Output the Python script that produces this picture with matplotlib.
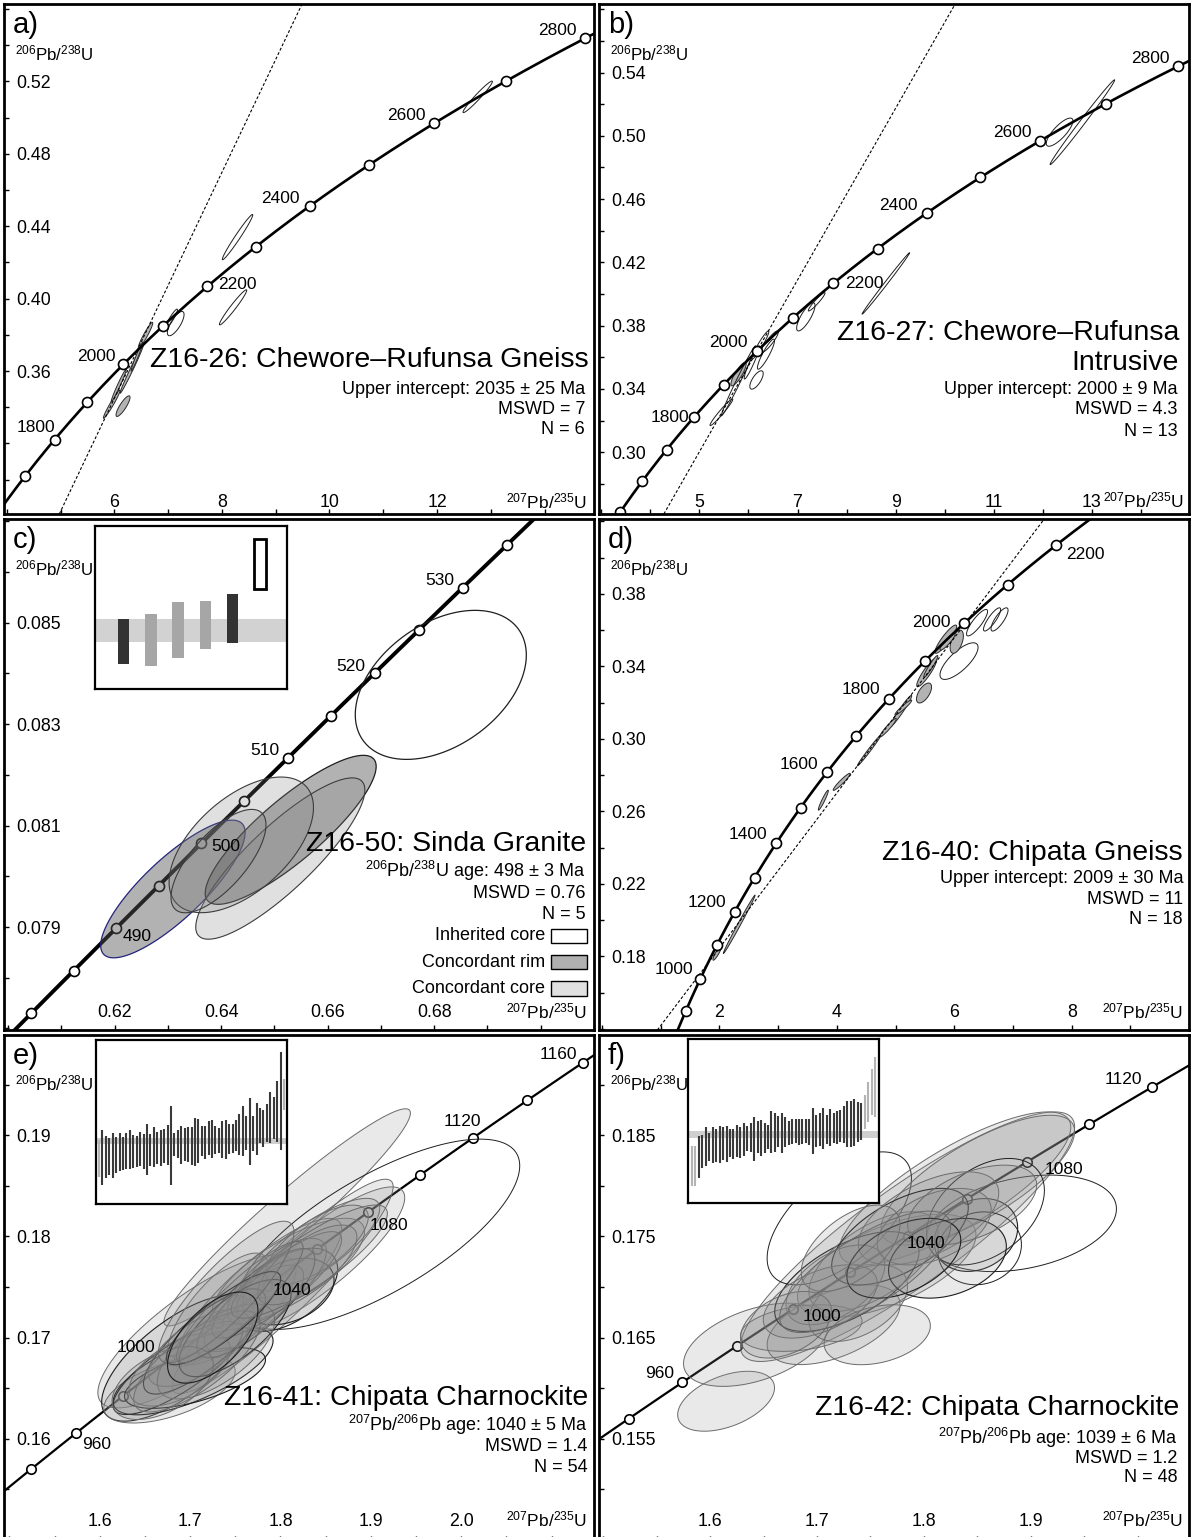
import numpy as np
import matplotlib.pyplot as plt
from matplotlib.patches import Rectangle
from matplotlib.ticker import FixedLocator, MultipleLocator

plt.rcParams['font.family'] = ['Liberation Sans', 'DejaVu Sans']
plt.rcParams['mathtext.fontset'] = 'custom'
plt.rcParams['mathtext.rm'] = 'Liberation Sans'
plt.rcParams['mathtext.it'] = 'Liberation Sans:italic'
plt.rcParams['mathtext.bf'] = 'Liberation Sans:bold'
plt.rcParams['mathtext.default'] = 'regular'

# U decay constants (1/yr)
L235 = 9.8485e-10
L238 = 1.55125e-10

# ---------------- data ----------------
# concordia age marks (Ma) and the ones that carry a label
ages_a = list(range(1700, 2801, 100))
ages_b = list(range(1500, 2801, 100))
ages_c = list(range(480, 536, 5))
ages_d = list(range(900, 2201, 100))
ages_e = list(range(940, 1161, 20))
ages_f = list(range(940, 1121, 20))
labels_a = [1800, 2000, 2200, 2400, 2600, 2800]
labels_b = [1800, 2000, 2200, 2400, 2600, 2800]
labels_c = [490, 500, 510, 520, 530]
labels_d = [1000, 1200, 1400, 1600, 1800, 2000, 2200]
labels_e = [960, 1000, 1040, 1080, 1120, 1160]
labels_f = [960, 1000, 1040, 1080, 1120]

# discordia (upper, lower intercept, Ma)
disc_a = (2035, -300)
disc_b = (2000, 300)
disc_d = (2009, 1045)

# error ellipses: 207Pb/235U, 206Pb/238U, half-extent x, half-extent y, rho, group
ell_a = [
    (6.579, 0.3798, 0.134, 0.0071, 0.95, 'fill'),
    (6.322, 0.3611, 0.217, 0.0134, 0.99, 'fill'),
    (5.950, 0.3417, 0.155, 0.0078, 0.97, 'fill'),
    (6.160, 0.3406, 0.130, 0.0057, 0.85, 'fill'),
    (6.420, 0.3680, 0.110, 0.0080, 0.98, 'fill'),
    (6.080, 0.3520, 0.140, 0.0090, 0.98, 'fill'),
    (7.140, 0.3862, 0.155, 0.0067, 0.75, 'open'),
    (7.057, 0.3887, 0.115, 0.0055, 0.93, 'open'),
    (8.207, 0.3952, 0.254, 0.0097, 0.97, 'open'),
    (8.290, 0.4340, 0.283, 0.0125, 0.98, 'open'),
    (12.757, 0.5115, 0.273, 0.0087, 0.97, 'open'),
]
ell_b = [
    (12.807, 0.5086, 0.658, 0.0268, 0.995, 'open'),
    (12.342, 0.5023, 0.271, 0.0089, 0.80, 'open'),
    (8.800, 0.4067, 0.484, 0.0194, 0.997, 'open'),
    (7.169, 0.3856, 0.187, 0.0089, 0.80, 'open'),
    (7.390, 0.3951, 0.170, 0.0058, 0.95, 'open'),
    (5.797, 0.3494, 0.155, 0.0074, 0.85, 'fill'),
    (5.448, 0.3253, 0.232, 0.0084, 0.97, 'open'),
    (5.797, 0.3452, 0.349, 0.0221, 0.99, 'open'),
    (6.164, 0.3457, 0.136, 0.0058, 0.70, 'open'),
    (6.357, 0.3620, 0.174, 0.0095, 0.90, 'open'),
    (6.435, 0.3699, 0.174, 0.0068, 0.90, 'open'),
    (6.241, 0.3678, 0.174, 0.0089, 0.95, 'open'),
    (6.068, 0.3568, 0.155, 0.0105, 0.95, 'open'),
]
ell_c = [
    (0.63093, 0.079750, 0.01356, 0.001357, 0.82, 'rim'),
    (0.65305, 0.080916, 0.01605, 0.001469, 0.85, 'rim'),
    (0.65110, 0.080350, 0.01588, 0.001590, 0.85, 'core'),
    (0.64377, 0.080620, 0.01356, 0.001337, 0.55, 'core'),
    (0.63949, 0.080300, 0.00892, 0.001019, 0.70, 'core'),
    (0.68124, 0.083774, 0.01606, 0.001469, 0.40, 'inherited'),
]
ell_d = [
    (6.388, 0.3641, 0.179, 0.0073, 0.85, 'open'),
    (6.644, 0.3659, 0.146, 0.0064, 0.85, 'open'),
    (6.771, 0.3659, 0.145, 0.0064, 0.80, 'open'),
    (6.081, 0.3429, 0.324, 0.0101, 0.75, 'open'),
    (5.856, 0.3550, 0.185, 0.0078, 0.90, 'fill'),
    (6.042, 0.3536, 0.113, 0.0064, 0.50, 'fill'),
    (5.885, 0.3536, 0.128, 0.0046, 0.90, 'fill'),
    (5.531, 0.3366, 0.170, 0.0078, 0.90, 'fill'),
    (5.600, 0.3400, 0.120, 0.0060, 0.95, 'fill'),
    (5.485, 0.3253, 0.128, 0.0055, 0.60, 'fill'),
    (5.090, 0.3153, 0.185, 0.0087, 0.97, 'fill'),
    (5.132, 0.3173, 0.142, 0.0041, 0.95, 'fill'),
    (4.872, 0.3062, 0.140, 0.0051, 0.95, 'fill'),
    (4.550, 0.2936, 0.200, 0.0085, 0.99, 'fill'),
    (4.083, 0.2763, 0.145, 0.0047, 0.95, 'fill'),
    (3.770, 0.2662, 0.085, 0.0055, 0.95, 'fill'),
    (2.337, 0.1977, 0.270, 0.0161, 0.995, 'fill'),
    (1.964, 0.1820, 0.074, 0.0041, 0.90, 'fill'),
]
ell_e = [
    (1.8074, 0.18188, 0.1364, 0.01073, 0.96, 'grain'),
    (1.9082, 0.18021, 0.1566, 0.00940, 0.72, 'open'),
    (1.8416, 0.17774, 0.0959, 0.00715, 0.85, 'grain'),
    (1.8024, 0.17505, 0.1223, 0.01060, 0.93, 'grain'),
    (1.7075, 0.17061, 0.1096, 0.00756, 0.80, 'grain'),
    (1.6864, 0.16798, 0.0843, 0.00624, 0.70, 'dark'),
    (1.6772, 0.16486, 0.0727, 0.00330, 0.55, 'grain'),
    (1.7033, 0.16667, 0.0885, 0.00430, 0.70, 'dark'),
    (1.7054, 0.16601, 0.0780, 0.00300, 0.60, 'dark'),
    (1.8074, 0.17472, 0.0559, 0.00411, 0.50, 'dark'),
    (1.8087, 0.17455, 0.0506, 0.00329, 0.35, 'dark'),
    (1.7307, 0.17275, 0.0560, 0.00560, 0.75, 'grain'),
    (1.6864, 0.16700, 0.0717, 0.00460, 0.80, 'dark'),
    (1.7771, 0.17455, 0.0906, 0.00723, 0.85, 'grain'),
    (1.7728, 0.17340, 0.0653, 0.00540, 0.80, 'dark'),
    (1.8087, 0.17653, 0.0843, 0.00526, 0.75, 'grain'),
    (1.8361, 0.17883, 0.0738, 0.00493, 0.80, 'grain'),
    (1.8403, 0.17915, 0.0569, 0.00394, 0.70, 'grain'),
    (1.7159, 0.16962, 0.0675, 0.00520, 0.80, 'dark'),
    (1.7096, 0.16897, 0.0560, 0.00380, 0.65, 'grain'),
    (1.6885, 0.16683, 0.0560, 0.00360, 0.55, 'grain'),
    (1.7707, 0.17290, 0.0548, 0.00427, 0.75, 'grain'),
    (1.7960, 0.17554, 0.0548, 0.00427, 0.70, 'grain'),
    (1.7497, 0.17094, 0.0620, 0.00480, 0.70, 'dark'),
    (1.7286, 0.16864, 0.0650, 0.00470, 0.65, 'grain'),
    (1.7960, 0.17521, 0.0717, 0.00526, 0.85, 'grain'),
    (1.7075, 0.16765, 0.0700, 0.00500, 0.75, 'grain'),
    (1.8298, 0.17718, 0.0548, 0.00394, 0.70, 'grain'),
    (1.7370, 0.17192, 0.0632, 0.00460, 0.85, 'dark'),
    (1.8319, 0.17751, 0.0864, 0.00559, 0.85, 'grain'),
    (1.6696, 0.16551, 0.0560, 0.00360, 0.50, 'grain'),
    (1.7550, 0.17350, 0.0700, 0.00600, 0.90, 'grain'),
    (1.7400, 0.17450, 0.0750, 0.00700, 0.85, 'grain'),
    (1.7250, 0.17000, 0.0500, 0.00450, 0.60, 'dark'),
]
ell_f = [
    (1.6149, 0.15871, 0.0453, 0.00296, 0.45, 'grain'),
    (1.6426, 0.16429, 0.0675, 0.00411, 0.45, 'grain'),
    (1.7847, 0.17497, 0.1563, 0.01233, 0.88, 'grain'),
    (1.8913, 0.17629, 0.0888, 0.00477, 0.30, 'open'),
    (1.7208, 0.17678, 0.0675, 0.00657, 0.60, 'open'),
    (1.7652, 0.17209, 0.0835, 0.00510, 0.60, 'grain'),
    (1.8487, 0.17514, 0.0390, 0.00360, 0.20, 'dark'),
    (1.8291, 0.17974, 0.1083, 0.00756, 0.80, 'grain'),
    (1.8504, 0.18056, 0.0906, 0.00641, 0.75, 'grain'),
    (1.8576, 0.17744, 0.0551, 0.00526, 0.40, 'open'),
    (1.8522, 0.17382, 0.0390, 0.00360, 0.10, 'open'),
    (1.7155, 0.16627, 0.0622, 0.00394, 0.50, 'grain'),
    (1.6853, 0.16594, 0.0568, 0.00230, 0.30, 'grain'),
    (1.7279, 0.17054, 0.0675, 0.00493, 0.60, 'dark'),
    (1.7528, 0.17251, 0.0604, 0.00493, 0.60, 'grain'),
    (1.7776, 0.17497, 0.0639, 0.00477, 0.60, 'dark'),
    (1.8043, 0.17678, 0.0657, 0.00460, 0.55, 'grain'),
    (1.7172, 0.17021, 0.0462, 0.00394, 0.50, 'grain'),
    (1.7385, 0.16840, 0.0462, 0.00378, 0.45, 'grain'),
    (1.8220, 0.17284, 0.0551, 0.00394, 0.30, 'dark'),
    (1.7030, 0.16857, 0.0533, 0.00362, 0.50, 'grain'),
    (1.8096, 0.17596, 0.0533, 0.00378, 0.45, 'grain'),
    (1.8451, 0.17810, 0.0604, 0.00394, 0.50, 'grain'),
    (1.7563, 0.16528, 0.0497, 0.00296, 0.30, 'grain'),
    (1.7812, 0.17284, 0.0533, 0.00394, 0.45, 'dark'),
    (1.7314, 0.17382, 0.0462, 0.00427, 0.55, 'grain'),
    (1.6710, 0.16627, 0.0426, 0.00329, 0.40, 'grain'),
    (1.7450, 0.17150, 0.0800, 0.00600, 0.75, 'grain'),
]

# weighted-mean insets: 2-sigma age ranges (Ma) and groups
wm_c_lo = [489.2, 488.7, 490.7, 493.1, 494.6, 509.0]
wm_c_hi = [501.0, 502.3, 505.4, 505.8, 507.6, 522.0]
wm_c_grp = ['rim', 'core', 'core', 'core', 'rim', 'inherited']
wm_c_mean = (498, 3)

wm_e_lo = [980, 966, 978, 983, 978, 986, 989, 991, 992, 992, 994, 996, 997, 993, 982, 998,
           996, 1001, 998, 1003, 1000, 966, 1014, 1011, 1001, 1007, 1005, 1000, 997, 1003,
           1014, 1010, 1017, 1012, 1018, 1020, 1011, 1010, 1018, 1020, 1023, 1017, 1014,
           1024, 999, 1023, 1016, 1036, 1030, 1038, 1036, 1044, 1038, 1024, 1092]
wm_e_hi = [1042, 1058, 1049, 1045, 1054, 1046, 1054, 1046, 1054, 1059, 1050, 1048, 1055,
           1051, 1069, 1051, 1063, 1055, 1058, 1061, 1067, 1099, 1054, 1058, 1065, 1062,
           1063, 1063, 1079, 1078, 1066, 1066, 1073, 1076, 1065, 1062, 1074, 1076, 1069,
           1069, 1076, 1086, 1099, 1083, 1113, 1083, 1104, 1096, 1092, 1103, 1123, 1114,
           1142, 1190, 1145]
wm_e_rejected = [0, 54]
wm_e_mean = (1040, 5)

wm_f_lo = [951, 951, 965, 982, 985, 994, 990, 992, 991, 996, 992, 1000, 997, 1001, 998, 1002,
           1011, 1009, 994, 1008, 1003, 1008, 1014, 1007, 1009, 1017, 1007, 1017, 1021, 1022,
           1024, 1021, 1022, 1024, 1021, 1005, 1017, 1019, 1014, 1022, 1019, 1024, 1022, 1026,
           1025, 1017, 1018, 1020, 1026, 1029, 1049, 1060, 1072, 1069]
wm_f_hi = [1019, 1019, 1036, 1038, 1051, 1042, 1052, 1049, 1054, 1052, 1054, 1048, 1049, 1056,
           1052, 1059, 1054, 1058, 1068, 1062, 1064, 1059, 1056, 1079, 1076, 1071, 1076, 1068,
           1062, 1066, 1066, 1066, 1065, 1066, 1065, 1085, 1073, 1075, 1085, 1073, 1083, 1076,
           1079, 1081, 1087, 1096, 1097, 1100, 1094, 1092, 1106, 1129, 1151, 1171]
wm_f_rejected = [0, 1, 50, 51, 52, 53]
wm_f_mean = (1039, 6)

# panel text
titles = {
    'a': ['Z16-26: Chewore–Rufunsa Gneiss'],
    'b': ['Z16-27: Chewore–Rufunsa', 'Intrusive'],
    'c': ['Z16-50: Sinda Granite'],
    'd': ['Z16-40: Chipata Gneiss'],
    'e': ['Z16-41: Chipata Charnockite'],
    'f': ['Z16-42: Chipata Charnockite'],
}
stats = {
    'a': ['Upper intercept: 2035 ± 25 Ma', 'MSWD = 7', 'N = 6'],
    'b': ['Upper intercept: 2000 ± 9 Ma', 'MSWD = 4.3', 'N = 13'],
    'c': ['$^{206}$Pb/$^{238}$U age: 498 ± 3 Ma', 'MSWD = 0.76', 'N = 5'],
    'd': ['Upper intercept: 2009 ± 30 Ma', 'MSWD = 11', 'N = 18'],
    'e': ['$^{207}$Pb/$^{206}$Pb age: 1040 ± 5 Ma', 'MSWD = 1.4', 'N = 54'],
    'f': ['$^{207}$Pb/$^{206}$Pb age: 1039 ± 6 Ma', 'MSWD = 1.2', 'N = 48'],
}
legend_c = ['Inherited core', 'Concordant rim', 'Concordant core']

# axis ticks (labelled) per panel
xt = {'a': [6, 8, 10, 12], 'b': [5, 7, 9, 11, 13], 'c': [0.62, 0.64, 0.66, 0.68],
      'd': [2, 4, 6, 8], 'e': [1.6, 1.7, 1.8, 1.9, 2.0], 'f': [1.6, 1.7, 1.8, 1.9]}
xtl = {'a': ['6', '8', '10', '12'], 'b': ['5', '7', '9', '11', '13'],
       'c': ['0.62', '0.64', '0.66', '0.68'], 'd': ['2', '4', '6', '8'],
       'e': ['1.6', '1.7', '1.8', '1.9', '2.0'], 'f': ['1.6', '1.7', '1.8', '1.9']}
yt = {'a': [0.36, 0.40, 0.44, 0.48, 0.52], 'b': [0.30, 0.34, 0.38, 0.42, 0.46, 0.50, 0.54],
      'c': [0.079, 0.081, 0.083, 0.085], 'd': [0.18, 0.22, 0.26, 0.30, 0.34, 0.38],
      'e': [0.16, 0.17, 0.18, 0.19], 'f': [0.155, 0.165, 0.175, 0.185]}
ytl = {'a': ['0.36', '0.40', '0.44', '0.48', '0.52'],
       'b': ['0.30', '0.34', '0.38', '0.42', '0.46', '0.50', '0.54'],
       'c': ['0.079', '0.081', '0.083', '0.085'],
       'd': ['0.18', '0.22', '0.26', '0.30', '0.34', '0.38'],
       'e': ['0.16', '0.17', '0.18', '0.19'], 'f': ['0.155', '0.165', '0.175', '0.185']}

# ---------------- layout ----------------
W, H = 1192, 1537
fig = plt.figure(figsize=(W / 100, H / 100), dpi=100)


def px_axes(l, t, r, b):
    return fig.add_axes([l / W, 1 - b / H, (r - l) / W, (b - t) / H])


def concordia(t_ma):
    t = np.asarray(t_ma, dtype=float) * 1e6
    return np.exp(L235 * t) - 1, np.exp(L238 * t) - 1


def draw_ellipse(ax, x, y, sx, sy, rho, z, **kw):
    th = np.linspace(0, 2 * np.pi, 160)
    ex = x + sx * np.cos(th)
    ey = y + sy * (rho * np.cos(th) + np.sqrt(1 - rho ** 2) * np.sin(th))
    ax.fill(ex, ey, zorder=z, **kw)


ell_style = {
    'fill': dict(facecolor='#b3b3b3', edgecolor='#2a2a2a', linewidth=0.7),
    'open': dict(facecolor='none', edgecolor='#1e1e1e', linewidth=0.7),
    'rim': dict(facecolor=(0.33, 0.33, 0.33, 0.45), edgecolor='#1e1e1e', linewidth=0.9),
    'core': dict(facecolor=(0.5, 0.5, 0.5, 0.24), edgecolor='#3c3c3c', linewidth=0.8),
    'inherited': dict(facecolor='none', edgecolor='#1e1e1e', linewidth=0.9),
    'grain': dict(facecolor=(0.55, 0.55, 0.55, 0.19), edgecolor='#6a6a6a', linewidth=0.7),
    'dark': dict(facecolor=(0.55, 0.55, 0.55, 0.19), edgecolor='#1e1e1e', linewidth=0.8),
}

boxes = {'a': (4, 4, 594, 514), 'b': (599, 4, 1189, 514),
         'c': (4, 519, 594, 1030), 'd': (599, 519, 1189, 1030),
         'e': (4, 1035, 594, 1541), 'f': (599, 1035, 1189, 1541)}
lims = {'a': ((3.946, 14.92), (0.2810, 0.5628)),
        'b': ((2.953, 14.98), (0.2610, 0.5833)),
        'c': ((0.59921, 0.71001), (0.076970, 0.087044)),
        'd': ((-0.051, 9.998), (0.1394, 0.4213)),
        'e': ((1.494, 2.147), (0.1499, 0.1999)),
        'f': ((1.496, 2.048), (0.1449, 0.1949))}
minor = {'a': (1, 0.02), 'b': (1, 0.02), 'c': (0.01, 0.001), 'd': (1, 0.02),
         'e': (0.05, 0.005), 'f': (0.05, 0.005)}
xpad = {'a': 2.0, 'b': 2.5, 'c': 6.5, 'd': 6.5, 'e': 8.0, 'f': 8.0}
xlab_right = {'a': 0.988, 'b': 0.992, 'c': 0.988, 'd': 0.99, 'e': 0.988, 'f': 0.99}

panels = {
    'a': (ages_a, labels_a, ell_a, disc_a, (1500, 3000)),
    'b': (ages_b, labels_b, ell_b, disc_b, (1400, 3000)),
    'c': (ages_c, labels_c, ell_c, None, (470, 545)),
    'd': (ages_d, labels_d, ell_d, disc_d, (800, 2400)),
    'e': (ages_e, labels_e, ell_e, None, (900, 1200)),
    'f': (ages_f, labels_f, ell_f, None, (900, 1200)),
}
# age-label offsets from the marker, pixels (right, down)
lab_off = {
    'a': {1800: (-19, -12), 2000: (-27, -8), 2200: (30, -2), 2400: (-29, -8), 2600: (-28, -8), 2800: (-28, -8)},
    'b': {1800: (-24, 0), 2000: (-28, -9), 2200: (31, 0), 2400: (-28, -8), 2600: (-28, -8), 2800: (-28, -8)},
    'c': {490: (21, 8), 500: (24, 3), 510: (-23, -8), 520: (-24, -7), 530: (-23, -7)},
    'd': {1000: (-27, -9), 1200: (-28, -9), 1400: (-28, -8), 1600: (-28, -8), 1800: (-28, -9), 2000: (-33, -1), 2200: (30, 9)},
    'e': {960: (20, 12), 1000: (-34, -12), 1040: (25, 4), 1080: (21, 13), 1120: (-11, -16), 1160: (-24, -8)},
    'f': {960: (-23, -9), 1000: (29, 7), 1040: (18, 8), 1080: (36, 8), 1120: (-29, -8)},
}
title_pos = {'a': (0.9915, [0.302]), 'b': (0.983, [0.355, 0.296]), 'c': (0.987, [0.364]),
             'd': (0.99, [0.346]), 'e': (0.99, [0.283]), 'f': (0.983, [0.263])}
stats_pos = {'a': (0.985, [0.245, 0.204, 0.165]), 'b': (0.98, [0.245, 0.204, 0.161]),
             'c': (0.985, [0.311, 0.268, 0.227]), 'd': (0.99, [0.297, 0.256, 0.217]),
             'e': (0.989, [0.230, 0.186, 0.145]), 'f': (0.98, [0.204, 0.164, 0.125])}

PT = 0.72  # points per pixel at 100 dpi

for key, box in boxes.items():
    ages, labs, ells, disc, trange = panels[key]
    ax = px_axes(*box)
    ax.set_xlim(*lims[key][0])
    ax.set_ylim(*lims[key][1])
    for s in ax.spines.values():
        s.set_linewidth(2.0)

    front = key in ('c', 'e', 'f')
    ez = 3 if front else 1.5

    # concordia curve and age marks
    cx, cy = concordia(np.linspace(*trange, 500))
    lw = 2.8 if key == 'c' else (1.6 if key in ('e', 'f') else 1.9)
    ax.plot(cx, cy, color='black', lw=lw, zorder=2, solid_capstyle='butt')
    mx, my = concordia(ages)
    ms = 6.8 if key in ('e', 'f') else 7.2
    ax.plot(mx, my, 'o', ms=ms, mfc='white', mec='black', mew=1.2, zorder=2.5)
    for age in labs:
        px, py = concordia(age)
        dx, dy = lab_off[key][age]
        ax.annotate(str(age), (px, py), xytext=(dx * PT, -dy * PT),
                    textcoords='offset points', ha='center', va='center',
                    fontsize=12.5, zorder=6)

    # discordia
    if disc is not None:
        p1 = concordia(disc[0])
        p2 = concordia(disc[1])
        ax.axline((float(p1[0]), float(p1[1])), (float(p2[0]), float(p2[1])),
                  color='black', lw=0.8, ls=(0, (2.6, 1.8)), zorder=1.8)

    # error ellipses
    for i, (x, y, sx, sy, rho, grp) in enumerate(ells):
        st = dict(ell_style[grp])
        if key == 'c' and i == 0:
            st['edgecolor'] = '#23237a'
        draw_ellipse(ax, x, y, sx, sy, rho, ez, **st)

    # ticks
    ax.xaxis.set_major_locator(FixedLocator(xt[key]))
    ax.yaxis.set_major_locator(FixedLocator(yt[key]))
    ax.xaxis.set_minor_locator(MultipleLocator(minor[key][0]))
    ax.yaxis.set_minor_locator(MultipleLocator(minor[key][1]))
    ax.set_xticklabels(xtl[key])
    ax.set_yticklabels(ytl[key])
    ax.tick_params(which='both', direction='in', length=5 * PT, width=1.0,
                   top=False, right=False, labelsize=12.8)
    ax.tick_params(axis='y', which='major', pad=-9.0)
    ax.tick_params(axis='x', which='major', pad=-xpad[key])
    for lab in ax.get_yticklabels():
        lab.set_horizontalalignment('left')
    for lab in ax.get_xticklabels():
        lab.set_verticalalignment('bottom')

    # axis names inside the frame
    ax.text(0.019, 0.904, '$^{206}$Pb/$^{238}$U', transform=ax.transAxes,
            fontsize=12.2, ha='left', va='center', zorder=6)
    ax.text(xlab_right[key], xpad[key] / PT / ((box[3] - box[1])), '$^{207}$Pb/$^{235}$U',
            transform=ax.transAxes, fontsize=12.5, ha='right', va='bottom', zorder=6)

    # panel letter
    ax.text(0.015, 0.958, key + ')', transform=ax.transAxes, fontsize=21,
            ha='left', va='center', zorder=6)

    # sample name and statistics
    tx, tys = title_pos[key]
    for line, ty in zip(titles[key], tys):
        ax.text(tx, ty, line, transform=ax.transAxes, fontsize=20.5,
                ha='right', va='center', zorder=6)
    sx_, sys_ = stats_pos[key]
    for line, sy_ in zip(stats[key], sys_):
        ax.text(sx_, sy_, line, transform=ax.transAxes, fontsize=13,
                ha='right', va='center', zorder=6)

    if key == 'c':
        fills = ['white', '#b0b0b0', '#e0e0e0']
        for name, fc, ly in zip(legend_c, fills, [0.184, 0.133, 0.082]):
            ax.add_patch(Rectangle((0.927, ly - 0.0145), 0.061, 0.029, transform=ax.transAxes,
                                   facecolor=fc, edgecolor='black', lw=1.0, zorder=6))
            ax.text(0.917, ly, name, transform=ax.transAxes, fontsize=13,
                    ha='right', va='center', zorder=6)


def inset(l, t, r, b):
    a = px_axes(l, t, r, b)
    a.set_zorder(10)
    a.set_facecolor('white')
    a.set_xticks([])
    a.set_yticks([])
    for s in a.spines.values():
        s.set_linewidth(1.6)
    return a


# weighted mean, panel c
ic = inset(95, 526, 287, 689)
ic.set_xlim(-0.05, 6.99)
ic.set_ylim(482.6, 525.5)
ic.axhspan(wm_c_mean[0] - wm_c_mean[1], wm_c_mean[0] + wm_c_mean[1], color='#d2d2d2', lw=0)
bar_fc = {'rim': '#333333', 'core': '#a6a6a6', 'inherited': 'white'}
for i, (lo, hi, g) in enumerate(zip(wm_c_lo, wm_c_hi, wm_c_grp)):
    ic.bar(i + 1, hi - lo, bottom=lo, width=0.42, color=bar_fc[g],
           edgecolor='black' if g == 'inherited' else 'none', lw=2.0 if g == 'inherited' else 0)

# weighted mean, panel e
ie = inset(96, 1040, 287, 1204)
ie.set_xlim(-0.875, 54.87)
ie.set_ylim(933.6, 1210.6)
ie.axhspan(wm_e_mean[0] - wm_e_mean[1], wm_e_mean[0] + wm_e_mean[1], color='#cfcfcf', lw=0)
for i, (lo, hi) in enumerate(zip(wm_e_lo, wm_e_hi)):
    c = '#b4b4b4' if i in wm_e_rejected else '#3a3a3a'
    ie.vlines(i, lo, hi, color=c, lw=1.5)

# weighted mean, panel f
iff = inset(688, 1039, 879, 1203)
iff.set_xlim(-1.16, 54.16)
iff.set_ylim(922, 1202)
iff.axhspan(wm_f_mean[0] - wm_f_mean[1], wm_f_mean[0] + wm_f_mean[1], color='#cfcfcf', lw=0)
for i, (lo, hi) in enumerate(zip(wm_f_lo, wm_f_hi)):
    c = '#b4b4b4' if i in wm_f_rejected else '#3a3a3a'
    iff.vlines(i, lo, hi, color=c, lw=1.5)

fig.savefig('out.png', dpi=100)
